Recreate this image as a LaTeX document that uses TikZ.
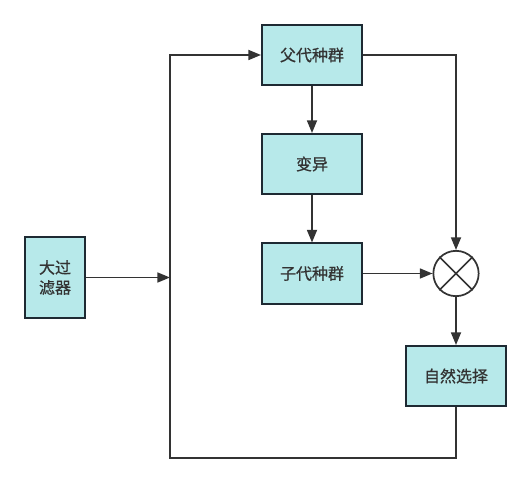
\documentclass[tikz,border=0pt]{standalone}
\usepackage{fontspec}
\newfontfamily\cjk[FakeBold=0.8]{Noto Sans CJK SC}
\usetikzlibrary{arrows.meta}
\definecolor{boxfill}{HTML}{B7E9EA}
\definecolor{boxline}{HTML}{1E2A33}
\definecolor{wire}{HTML}{333333}
\begin{document}
\begin{tikzpicture}[x=0.75pt,y=-0.75pt]
            \tikzset{
                stage/.style={draw=boxline,fill=boxfill,line width=1.5pt,minimum width=75pt,minimum height=45pt,font=\cjk\fontsize{12}{15}\selectfont,text=wire,inner sep=0pt},
                wire/.style={draw=wire,line width=1.3pt,-{Triangle[length=9.5pt,width=7.5pt]}},}
            \useasboundingbox (0,0) rectangle (531,484);
            \node[stage,minimum width=45pt,minimum height=60.75pt,align=center] (filt) at (55,277.5) {大过\\滤器};
            \node[stage] (par) at (312,55) {父代种群};
            \node[stage] (mut) at (312,164) {变异};
            \node[stage] (off) at (312,273.5) {子代种群};
            \node[stage] (sel) at (456,376) {自然选择};
            \node[draw=wire,line width=1.3pt,circle,minimum size=34pt,inner sep=0pt] (mix) at (456,273.5) {};
            \draw[draw=wire,line width=1.3pt] (mix.45) -- (mix.225) (mix.135) -- (mix.315);
            \coordinate (jn) at (170,277.5);
            \coordinate (lb) at (170,458);
            \draw[wire] (filt.east) -- (jn);
            \draw[wire] (sel.south) |- (lb) |- (par.west);
            \draw[wire] (par) -- (mut);
            \draw[wire] (mut) -- (off);
            \draw[wire] (off) -- (mix);
            \draw[wire] (par.east) -| (mix.north);
            \draw[wire] (mix) -- (sel);
        \end{tikzpicture}
\end{document}
